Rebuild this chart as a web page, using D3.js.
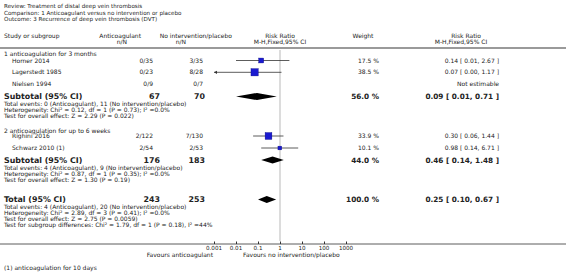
<!DOCTYPE html>
<html><head><meta charset="utf-8">
<script src="https://cdn.jsdelivr.net/npm/d3@7"></script>
<style>
body{margin:0;background:#fff;}
svg{display:block;font-family:"DejaVu Sans",Verdana,sans-serif;}
</style></head>
<body><svg id="c" width="566" height="272"></svg>
<script>
// ---- data ----
const titleLines = ["Review:  Treatment of distal deep vein thrombosis",
  "Comparison:  1 Anticoagulant versus no intervention or placebo",
  "Outcome:  3 Recurrence of deep vein thrombosis (DVT)"];
const groupLabels = ["1 anticoagulation for 3 months","2 anticoagulation for up to 6 weeks"];
const studyNames = ["Horner 2014","Lagerstedt 1985","Nielsen 1994","Righini 2016","Schwarz 2010 (1)"];
const anticoagulantNN = ["0/35","0/23","0/9","2/122","2/54"];
const controlNN = ["3/35","8/28","0/7","7/130","2/53"];
const weights = [17.5,38.5,null,33.9,10.1];
const rr = [0.14,0.07,null,0.30,0.98];
const rrLow = [0.01,0.001,null,0.06,0.14];
const rrHigh = [2.67,1.17,null,1.44,6.71];
const subLabels = ["Subtotal (95% CI)","Subtotal (95% CI)","Total (95% CI)"];
const subN1 = [67,176,243];
const subN2 = [70,183,253];
const subWeight = [56.0,44.0,100.0];
const subRR = [0.09,0.46,0.25];
const subLow = [0.01,0.14,0.10];
const subHigh = [0.71,1.48,0.67];
const subStats = [
 ["Total events: 0 (Anticoagulant), 11 (No intervention/placebo)",
  "Heterogeneity: Chi² = 0.12, df = 1 (P = 0.73); I² =0.0%",
  "Test for overall effect: Z = 2.29 (P = 0.022)"],
 ["Total events: 4 (Anticoagulant), 9 (No intervention/placebo)",
  "Heterogeneity: Chi² = 0.87, df = 1 (P = 0.35); I² =0.0%",
  "Test for overall effect: Z = 1.30 (P = 0.19)"],
 ["Total events: 4 (Anticoagulant), 20 (No intervention/placebo)",
  "Heterogeneity: Chi² = 2.89, df = 3 (P = 0.41); I² =0.0%",
  "Test for overall effect: Z = 2.75 (P = 0.0059)",
  "Test for subgroup differences: Chi² = 1.79, df = 1 (P = 0.18), I² =44%"]];
const axisTicks = [0.001,0.01,0.1,1,10,100,1000];
const favoursLeft = "Favours anticoagulant";
const favoursRight = "Favours no intervention/placebo";
const footnote = "(1) anticoagulation for 10 days";

// ---- layout ----
const svg = d3.select("#c");
const FS = 6.0, FB = 7.9, FBR = 7.3, FST = 6.0;
const x = d3.scaleLog().domain([0.001,1000]).range([214,346]);
const sq = d3.scaleSqrt().domain([0,100]).range([0,11.6]);
const fmt = d3.format(".2f");
const colN1 = 153, colN1b = 160, colN2 = 203, colN2b = 205, colW = 379, colRR = 499;

function txt(t,xx,yy,opt={}){
  return svg.append("text").attr("x",xx).attr("y",yy).attr("dy","0.35em")
    .attr("font-size",opt.size||FS).attr("font-weight",opt.bold?"bold":null)
    .attr("text-anchor",opt.anchor||"start").attr("fill","#222").text(t);
}
titleLines.forEach((t,i)=>txt(t,4,6.5+i*6.5,{size:5.6}));
txt("Study or subgroup",4,35.5);
txt("Anticoagulant",141,35.5,{anchor:"end"});
txt("n/N",127,42,{anchor:"end"});
txt("No intervention/placebo",232,35.5,{anchor:"end"});
txt("n/N",186,42,{anchor:"end"});
txt("Risk Ratio",x(1),35.5,{anchor:"middle"});
txt("M-H,Fixed,95% CI",x(1),42,{anchor:"middle"});
txt("Weight",363,35.5,{anchor:"middle"});
txt("Risk Ratio",466,35.5,{anchor:"middle"});
txt("M-H,Fixed,95% CI",461,42,{anchor:"middle"});
svg.append("line").attr("x1",0).attr("x2",566).attr("y1",48).attr("y2",48).attr("stroke","#9a9a9a").attr("stroke-width",2);

// rows y
const studyY = [60.5,72.3,84.3,136,148];
const groupY = [53.5,130.5];
const subY = [96.5,160,199.5];
const statGap = 7.8, statStep = 5.8;
const axisY = 244;

// vertical reference line
svg.append("line").attr("x1",x(1)).attr("x2",x(1)).attr("y1",50).attr("y2",axisY-3).attr("stroke","#dcdcdc").attr("stroke-width",2);

groupLabels.forEach((g,i)=>txt(g,4,groupY[i]));

studyNames.forEach((n,i)=>{
  const y=studyY[i];
  txt(n,12,y);
  txt(anticoagulantNN[i],colN1,y,{anchor:"end"});
  txt(controlNN[i],colN2,y,{anchor:"end"});
  if(rr[i]==null){ txt("Not estimable",colRR,y,{anchor:"end"}); return; }
  txt(d3.format(".1f")(weights[i])+" %",colW,y,{anchor:"end"});
  const lo=Math.max(rrLow[i],x.domain()[0]);
  svg.append("line").attr("x1",x(lo)).attr("x2",x(rrHigh[i])).attr("y1",y).attr("y2",y).attr("stroke","#333").attr("stroke-width",0.8);
  if(rrLow[i]<=x.domain()[0]){
    svg.append("path").attr("d",`M${x(lo)},${y}l3,-1.6v3.2z`).attr("fill","#333");
  }
  const s=sq(weights[i]);
  svg.append("rect").attr("x",x(rr[i])-s/2).attr("y",y-s/2).attr("width",s).attr("height",s)
    .attr("fill","#1a1ad0").attr("stroke","#000088").attr("stroke-width",0.4);
  txt(`${fmt(rr[i])} [ ${fmt(rrLow[i])}, ${fmt(rrHigh[i])} ]`,colRR,y,{anchor:"end"});
});

subLabels.forEach((l,i)=>{
  const y=subY[i];
  txt(l,4,y,{bold:true,size:FB});
  txt(subN1[i],colN1b,y,{bold:true,size:FB,anchor:"end"});
  txt(subN2[i],colN2b,y,{bold:true,size:FB,anchor:"end"});
  txt(d3.format(".1f")(subWeight[i])+" %",colW,y,{bold:true,size:FBR,anchor:"end"});
  txt(`${fmt(subRR[i])} [ ${fmt(subLow[i])}, ${fmt(subHigh[i])} ]`,colRR,y,{bold:true,size:FBR,anchor:"end"});
  const h=3.6;
  svg.append("path").attr("d",`M${x(subLow[i])},${y}L${x(subRR[i])},${y-h}L${x(subHigh[i])},${y}L${x(subRR[i])},${y+h}Z`).attr("fill","#000");
  subStats[i].forEach((s,j)=>txt(s,4,y+statGap+j*statStep,{size:FST}));
});

// axis
svg.append("line").attr("x1",0).attr("x2",566).attr("y1",axisY).attr("y2",axisY).attr("stroke","#333").attr("stroke-width",0.8);
const ax = d3.axisTop(x).tickValues(axisTicks).tickSize(2.5).tickFormat("");
const g = svg.append("g").attr("transform",`translate(0,${axisY})`).call(ax);
g.select(".domain").remove();
g.selectAll(".tick line").attr("stroke","#333");
axisTicks.forEach(t=>txt(String(t),x(t),248.5,{anchor:"middle",size:5.6}));
txt(favoursLeft,213,254.5,{anchor:"end"});
txt(favoursRight,243,254.5);
txt(footnote,4,268);
</script></body></html>
